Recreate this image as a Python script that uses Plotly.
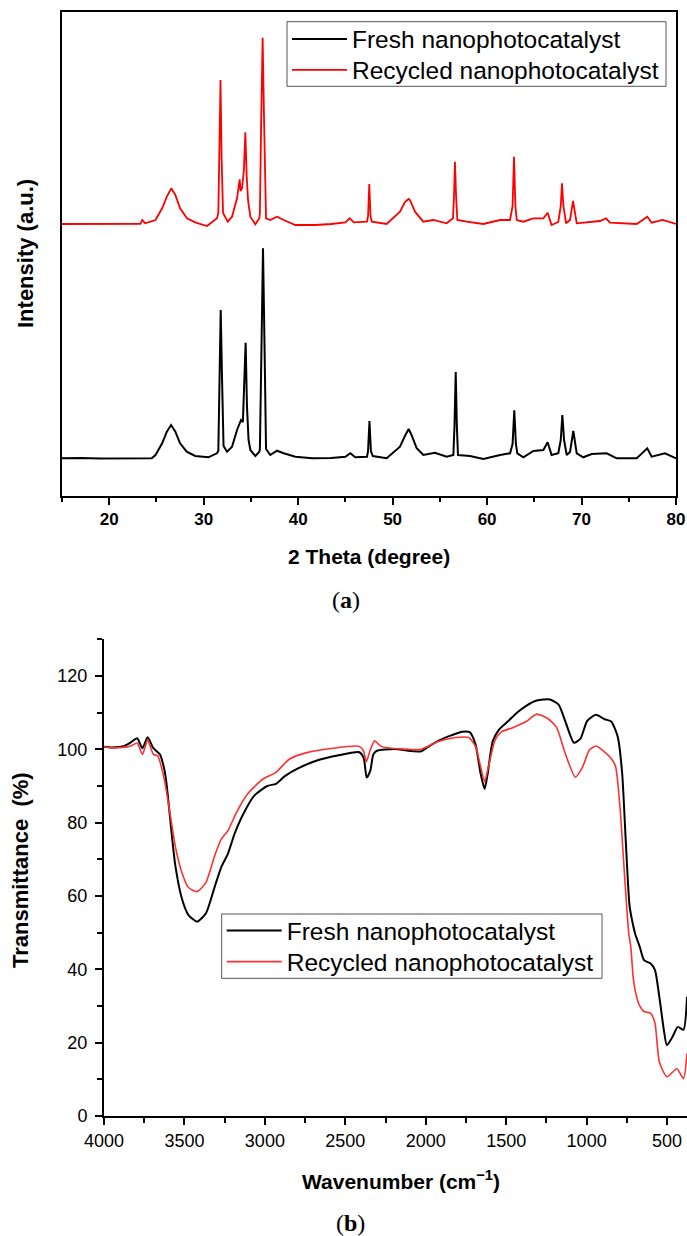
import plotly.graph_objects as go

# ---------------- (a) XRD data ----------------
two_theta_fresh = [15.0, 17.0, 19.0, 21.0, 23.0, 24.5, 24.9, 25.6, 26.1, 26.55, 27.0, 27.5, 28.2, 29.1,
                   30.5, 31.4, 31.55, 31.68, 31.8, 31.93, 32.1, 32.47, 33.0, 33.53, 33.95, 34.15, 34.3,
                   34.44, 34.58, 34.75, 34.94, 35.47, 35.89, 35.95, 36.12, 36.28, 36.44, 36.6, 37.05,
                   37.76, 38.47, 39.7, 41.5, 43.5, 45.0, 45.52, 46.05, 47.29, 47.4, 47.55, 47.7, 47.9,
                   49.37, 50.78, 51.3, 51.7, 52.0, 52.55, 53.25, 54.49, 55.72, 56.43, 56.55, 56.68,
                   56.8, 56.92, 58.19, 59.6, 61.37, 62.43, 62.7, 62.88, 63.05, 63.2, 63.84, 64.9, 65.96,
                   66.41, 66.83, 67.54, 67.8, 67.97, 68.15, 68.43, 68.78, 69.13, 69.49, 70.19, 71.07,
                   72.66, 73.72, 75.84, 76.96, 77.42, 78.83, 80.0]
intensity_fresh = [377, 380, 375, 378, 376, 377, 410, 527, 643, 710, 643, 527, 443, 400,
                   387, 427, 450, 1227, 1860, 1227, 500, 443, 493, 660, 760, 740, 1100,
                   1533, 900, 560, 460, 400, 443, 470, 1500, 2477, 1500, 470, 410,
                   453, 427, 393, 377, 380, 393, 427, 387, 393, 450, 750, 450, 400,
                   377, 493, 600, 670, 610, 477, 410, 433, 393, 410, 700, 1240,
                   700, 410, 400, 370, 410, 427, 520, 857, 520, 427, 387, 450, 460,
                   537, 410, 427, 560, 810, 560, 410, 440, 650, 427, 387, 420,
                   427, 377, 377, 477, 393, 427, 377]

two_theta_recycled = [15.0, 17.0, 19.0, 21.0, 23.3, 23.5, 23.8, 24.9, 25.6, 26.1, 26.57, 27.0, 27.5,
                      28.23, 29.1, 30.35, 31.41, 31.55, 31.66, 31.78, 31.9, 32.05, 32.54, 33.0, 33.53,
                      33.81, 33.9, 34.06, 34.25, 34.41, 34.55, 34.7, 34.94, 35.47, 35.89, 35.95, 36.08,
                      36.24, 36.4, 36.6, 37.05, 37.76, 38.47, 39.7, 41.8, 43.5, 45.0, 45.45, 45.88,
                      47.29, 47.4, 47.53, 47.66, 47.8, 49.37, 50.78, 51.3, 51.7, 51.84, 52.37, 53.25,
                      54.3, 55.72, 56.39, 56.5, 56.6, 56.72, 56.85, 57.84, 59.6, 61.37, 62.43, 62.7,
                      62.85, 63.0, 63.14, 63.84, 64.9, 65.96, 66.41, 66.83, 67.54, 67.8, 67.93, 68.08,
                      68.36, 68.78, 69.1, 69.49, 70.9, 71.96, 72.59, 73.01, 75.84, 76.96, 77.42, 78.59,
                      80.0]
intensity_recycled = [2720, 2722, 2718, 2720, 2722, 2760, 2727, 2760, 2877, 2993, 3077, 3010, 2877,
                      2777, 2737, 2700, 2777, 2830, 3367, 4160, 3367, 2830, 2743, 2793, 2977,
                      3167, 3050, 3077, 3250, 3637, 3200, 2950, 2793, 2717, 2777, 2830, 3710,
                      4583, 3710, 2777, 2760, 2793, 2760, 2710, 2710, 2720, 2737, 2777, 2737,
                      2743, 2800, 3120, 2800, 2743, 2720, 2843, 2940, 2970, 2960, 2843, 2743,
                      2760, 2727, 2777, 3000, 3343, 3000, 2760, 2743, 2720, 2760, 2760, 2900,
                      3393, 2900, 2760, 2743, 2777, 2777, 2833, 2710, 2740, 2900, 3127, 2900,
                      2727, 2760, 2950, 2727, 2743, 2750, 2777, 2733, 2720, 2793, 2733, 2760,
                      2720]

xrd_ticks = [20, 30, 40, 50, 60, 70, 80]

# ---------------- (b) FTIR data ----------------
wn_fresh = [4000, 3950, 3870, 3830, 3794, 3761, 3729, 3693, 3652, 3625, 3611, 3584, 3557, 3516, 3475,
            3421, 3366, 3312, 3271, 3230, 3189, 3135, 3067, 2985, 2931, 2876, 2794, 2685, 2549,
            2413, 2386, 2367, 2345, 2326, 2304, 2195, 2032, 1991, 1923, 1841, 1773, 1727, 1691,
            1659, 1634, 1615, 1583, 1542, 1487, 1433, 1378, 1310, 1228, 1174, 1133, 1079, 1038,
            997, 942, 888, 847, 806, 779, 757, 733, 711, 697, 670, 643, 602, 575, 548, 520, 501,
            466, 433, 398, 376]
t_fresh = [100.7, 100.5, 101.0, 102.0, 103.0, 100.3, 103.3, 100.3, 98.6, 94.5, 90.5, 79.0, 68.4, 59.3, 54.8,
           53.0, 55.3, 62.5, 67.9, 71.5, 76.9, 82.3, 87.3, 90.0, 90.6, 92.7, 94.8, 96.8, 98.3,
           99.2, 97.7, 92.3, 94.1, 98.6, 99.6, 100.1, 99.4, 100.5, 102.3, 103.8, 104.8, 104.7, 101.4,
           93.4, 89.2, 93.4, 102.3, 105.5, 107.7, 110.0, 111.8, 113.3, 113.6, 112.2, 107.7, 101.8, 102.9,
           107.7, 109.4, 108.2, 107.6, 103.3, 93.4, 75.3, 57.3, 52.0, 49.5, 46.2, 42.5, 41.6, 39.8, 32.5, 23.5, 19.3,
           21.6, 24.3, 23.5, 32.5]

wn_recycled = [4000, 3950, 3870, 3830, 3794, 3761, 3729, 3693, 3666, 3625, 3584, 3557, 3516, 3475, 3421,
               3366, 3312, 3271, 3230, 3176, 3108, 3012, 2931, 2849, 2740, 2576, 2413, 2386, 2370,
               2345, 2318, 2277, 2032, 1923, 1814, 1732, 1691, 1659, 1634, 1610, 1569, 1528, 1460,
               1378, 1310, 1242, 1188, 1133, 1070, 1024, 983, 942, 902, 847, 820, 793, 765, 738, 725,
               711, 697, 670, 643, 602, 575, 548, 501, 439, 398, 376]
t_recycled = [100.7, 100.4, 100.6, 101.0, 101.7, 98.6, 102.5, 98.6, 98.2, 91.8, 80.9, 73.6, 66.4, 62.3, 61.2,
              63.7, 71.0, 75.5, 77.8, 82.8, 87.8, 91.9, 93.7, 97.3, 99.1, 100.3, 100.8, 99.5, 96.6,
              99.8, 102.3, 100.8, 100.0, 102.1, 103.2, 103.2, 100.8, 95.3, 91.2, 95.3, 102.5, 104.8, 105.9,
              107.5, 109.6, 108.4, 106.1, 98.9, 92.4, 95.3, 99.8, 100.9, 99.8, 97.5, 95.3, 84.4, 66.2, 49.8, 46.0,
              38.0, 34.0, 30.0, 28.5, 28.0, 25.3, 14.8, 10.7, 12.9, 10.2, 17.0]

ftir_xticks = [4000, 3500, 3000, 2500, 2000, 1500, 1000, 500]
ftir_yticks = [0, 20, 40, 60, 80, 100, 120]

W, H = 687, 1236
def px(x):
    return x / W
def py(y):
    return 1 - y / H

FONT = "Liberation Sans, Arial, sans-serif"

fig = go.Figure()
fig.add_trace(go.Scatter(x=two_theta_fresh, y=intensity_fresh, mode="lines", name="Fresh nanophotocatalyst",
                         line=dict(color="#000000", width=2), xaxis="x", yaxis="y", legend="legend"))
fig.add_trace(go.Scatter(x=two_theta_recycled, y=intensity_recycled, mode="lines", name="Recycled nanophotocatalyst",
                         line=dict(color="#FF0000", width=1.8), xaxis="x", yaxis="y", legend="legend2"))
fig.add_trace(go.Scatter(x=wn_fresh, y=t_fresh, mode="lines", name="Fresh nanophotocatalyst",
                         line=dict(color="#000000", width=2, shape="spline", smoothing=0.6),
                         xaxis="x2", yaxis="y2", legend="legend3"))
fig.add_trace(go.Scatter(x=wn_recycled, y=t_recycled, mode="lines", name="Recycled nanophotocatalyst",
                         line=dict(color="#FF3030", width=1.6, shape="spline", smoothing=0.6),
                         xaxis="x2", yaxis="y2", legend="legend4"))

legend_common = dict(font=dict(family=FONT, size=24.5, color="#000"), bgcolor="rgba(255,255,255,0)",
                     borderwidth=0, xanchor="left", yanchor="middle", itemwidth=55)

fig.update_layout(
    width=W, height=H, margin=dict(l=0, r=0, t=0, b=0, autoexpand=False),
    paper_bgcolor="white", plot_bgcolor="white", showlegend=True,
    legend=dict(x=px(287), y=py(39), **legend_common),
    legend2=dict(x=px(287), y=py(70), **legend_common),
    legend3=dict(x=px(221.7), y=py(930.5), **legend_common),
    legend4=dict(x=px(221.7), y=py(961.7), **legend_common),
    xaxis=dict(domain=[px(62), px(676)], range=[15, 80], tickvals=xrd_ticks, ticks="outside", ticklen=7,
               tickwidth=1.5, tickcolor="#000", showline=True, linecolor="#000", linewidth=1.5, mirror=True,
               showgrid=False, zeroline=False, automargin=False,
               tickfont=dict(family=FONT, size=17, color="#000", weight="bold"),
               minor=dict(dtick=5, tick0=15, ticks="outside", ticklen=4, tickwidth=1.5, tickcolor="#000"),
               anchor="y"),
    yaxis=dict(domain=[py(496), py(12)], range=[0, 4840], showticklabels=False, ticks="", showline=True,
               linecolor="#000", linewidth=1.5, mirror=True, showgrid=False, zeroline=False, anchor="x",
               automargin=False),
    xaxis2=dict(domain=[px(104), 1], range=[4000, 376], tickvals=ftir_xticks, ticks="outside", ticklen=7,
                tickwidth=1.5, tickcolor="#000", showline=True, linecolor="#000", linewidth=2,
                showgrid=False, zeroline=False, automargin=False,
                tickfont=dict(family=FONT, size=18, color="#000"),
                minor=dict(dtick=250, tick0=0, ticks="outside", ticklen=5, tickwidth=1.5, tickcolor="#000"),
                anchor="y2"),
    yaxis2=dict(domain=[py(1116), py(639.3)], range=[0, 130], tickvals=ftir_yticks, ticks="outside", ticklen=7,
                tickwidth=1.5, tickcolor="#000", showline=True, linecolor="#000", linewidth=2,
                showgrid=False, zeroline=False, automargin=False, ticklabelstandoff=4,
                tickfont=dict(family=FONT, size=18, color="#000"),
                minor=dict(dtick=10, tick0=0, ticks="outside", ticklen=5, tickwidth=1.5, tickcolor="#000"),
                anchor="x2"),
)

# legend frames
fig.add_shape(type="rect", xref="paper", yref="paper", x0=px(287), x1=px(666), y0=py(86.3), y1=py(21.7),
              line=dict(color="#555555", width=1), fillcolor="rgba(0,0,0,0)")
fig.add_shape(type="rect", xref="paper", yref="paper", x0=px(221.7), x1=px(602), y0=py(978.3), y1=py(914),
              line=dict(color="#555555", width=1), fillcolor="rgba(0,0,0,0)")

ann_font_bold = dict(family=FONT, color="#000", weight="bold")
annots = [
    dict(text="Intensity (a.u.)", x=px(25), y=py(254), textangle=-90, font=dict(size=22, **ann_font_bold)),
    dict(text="2 Theta (degree)", x=px(369), y=py(556), font=dict(size=21, **ann_font_bold)),
    dict(text="(<b>a</b>)", x=px(346), y=py(600),
         font=dict(family="Liberation Serif, DejaVu Serif, serif", size=24, color="#000")),
    dict(text="Transmittance  (%)", x=px(20), y=py(870), textangle=-90, font=dict(size=22, **ann_font_bold)),
    dict(text="Wavenumber (cm<sup>\u22121</sup>)", x=px(401), y=py(1180), font=dict(size=21, **ann_font_bold)),
    dict(text="(<b>b</b>)", x=px(350), y=py(1223),
         font=dict(family="Liberation Serif, DejaVu Serif, serif", size=24, color="#000")),
]
for a in annots:
    fig.add_annotation(xref="paper", yref="paper", xanchor="center", yanchor="middle", showarrow=False, **a)

fig.write_html("out.html", config={"displayModeBar": False},
               post_script="document.body.style.margin='0';document.body.style.overflow='hidden';")
